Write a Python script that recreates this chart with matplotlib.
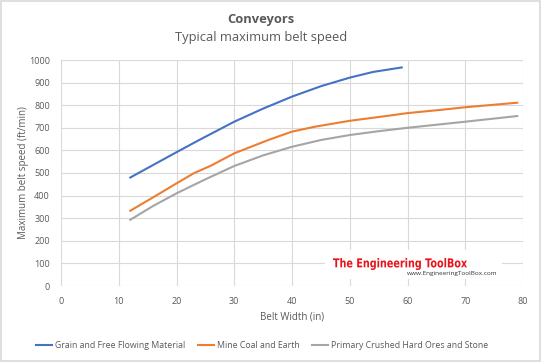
import matplotlib.pyplot as plt
from matplotlib.patches import Rectangle, PathPatch
from matplotlib.textpath import TextPath
from matplotlib.font_manager import FontProperties
from matplotlib.transforms import Affine2D, IdentityTransform

# Belt width (in) and max belt speed (ft/min)
grain_w = [12, 16, 20, 24, 30, 35, 40, 45, 50, 54, 59]
grain_v = [480, 536, 592, 647, 727, 785, 838, 884, 922, 947, 967]

coal_w = [12, 16, 20, 23, 26, 30, 36, 40, 44, 50, 56, 60, 66, 70, 79]
coal_v = [333, 393, 454, 499, 533, 587, 647, 683, 705, 731, 751, 765, 780, 791, 811]

ore_w = [12, 16, 20, 25, 30, 35, 40, 45, 50, 55, 60, 70, 79]
ore_v = [293, 355, 410, 472, 531, 578, 616, 646, 668, 685, 700, 727, 752]

x_ticks = list(range(0, 81, 10))
y_ticks = list(range(0, 1001, 100))

txt = '#595959'
grid = '#D9D9D9'
plt.rcParams['font.family'] = ['Open Sans', 'DejaVu Sans']

W, H = 541, 362
fig = plt.figure(figsize=(W / 100, H / 100), dpi=100)
ax = fig.add_axes([61 / W, 1 - 286 / H, 462 / W, 226 / H])

ax.plot(grain_w, grain_v, color='#4472C4', lw=1.5, label='Grain and Free Flowing Material')
ax.plot(coal_w, coal_v, color='#ED7D31', lw=1.5, label='Mine Coal and Earth')
ax.plot(ore_w, ore_v, color='#A5A5A5', lw=1.5, label='Primary Crushed Hard Ores and Stone')

ax.set_xlim(0, 80)
ax.set_ylim(0, 1000)
ax.set_xticks(x_ticks)
ax.set_yticks(y_ticks)
ax.grid(True, color=grid, lw=0.8)
ax.set_axisbelow(True)
for s in ax.spines.values():
    s.set_visible(False)
ax.tick_params(length=0, labelsize=6.5, labelcolor=txt)
ax.tick_params(axis='y', pad=8)
ax.tick_params(axis='x', pad=8)
ax.set_xlabel('Belt Width (in)', fontsize=7, color=txt, labelpad=4)
ax.set_ylabel('Maximum belt speed (ft/min)', fontsize=7, color=txt, labelpad=0)

fig.text(261 / W, 1 - 19 / H, 'Conveyors', ha='center', va='center',
         fontsize=9.3, fontweight='bold', color=txt)
fig.text(261 / W, 1 - 38 / H, 'Typical maximum belt speed', ha='center', va='center',
         fontsize=9.3, color=txt)

# watermark: white box over the grid, condensed red logo text
fig.add_artist(Rectangle((325, H - 279), 177, 29, transform=IdentityTransform(),
                         facecolor='white', edgecolor='none', zorder=3))
tp = TextPath((0, 0), 'The Engineering ToolBox', size=10,
              prop=FontProperties(family='DejaVu Sans', weight='bold'))
bb = tp.get_extents()
sx = 134 / bb.width
sy = 12 / bb.height
tr = Affine2D().translate(-bb.x0, -bb.y0).scale(sx, sy).translate(333, H - 270)
fig.add_artist(PathPatch(tr.transform_path(tp), transform=IdentityTransform(),
                         facecolor='#E8141C', edgecolor='none', zorder=4))
fig.text(497 / W, 1 - 273 / H, 'www.EngineeringToolBox.com', ha='right', va='center',
         fontsize=4.6, color='#333333', zorder=4)

fig.legend(loc='center', bbox_to_anchor=(262 / W, 1 - 346 / H), ncol=3, frameon=False,
           fontsize=6.3, labelcolor=txt, handlelength=1.9, handletextpad=0.3, columnspacing=1.4)

fig.add_artist(Rectangle((0.002, 0.003), 0.996, 0.994, transform=fig.transFigure,
                         fill=False, edgecolor='#D9D9D9', lw=1.2))

fig.savefig('out.png', dpi=100)
